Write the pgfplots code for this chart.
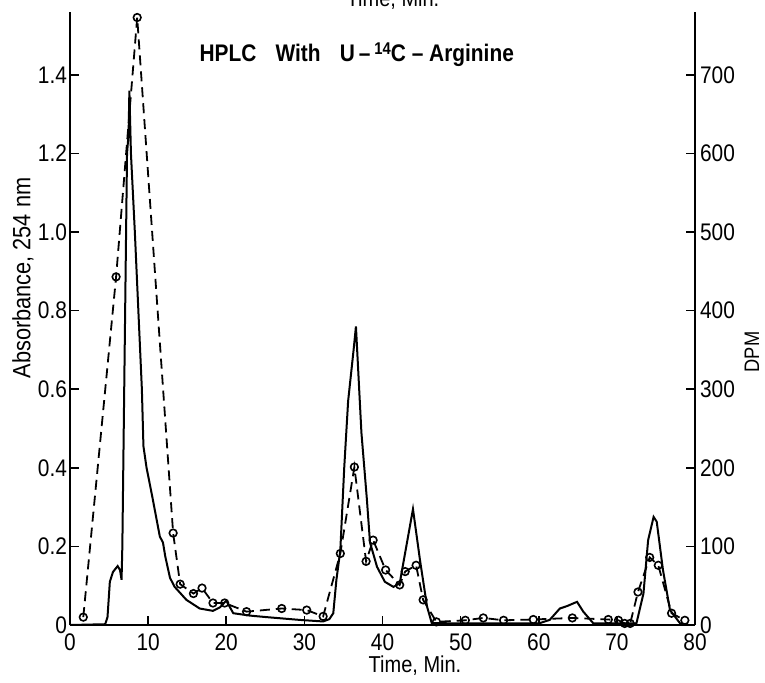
\documentclass[border=0pt]{standalone}
\usepackage{fontspec}
\setmainfont{Liberation Sans}[FakeStretch=0.87]
\usepackage{pgfplots}
\pgfplotsset{compat=1.18}
\begin{document}
\begin{tikzpicture}
\pgfplotsset{
  common/.style={
    at={(0,0)}, anchor=south west,
    scale only axis, width=312.5pt, height=306.5pt,
    xmin=0, xmax=80,
    tick align=inside, major tick length=4.5pt,
    tick style={line width=0.8pt, black},
    axis line style={line width=1pt},
    ticklabel style={font=\fontsize{12}{12}\selectfont},
    /pgf/number format/assume math mode=true,
  }
}
\begin{axis}[common,
  ymin=0, ymax=1.56,
  axis x line*=bottom, axis y line*=left,
  xtick={0,10,...,80},
  ytick={0,0.2,0.4,0.6,0.8,1.0,1.2,1.4},
  yticklabels={0,0.2,0.4,0.6,0.8,1.0,1.2,1.4},
  xticklabel style={yshift=-1pt},
  yticklabel style={xshift=2pt},
]
\addplot[black, line width=1pt, no markers] coordinates {
(0,0) (4.5,0.002) (4.8,0.02) (5.1,0.11) (5.5,0.135) (6.1,0.15) (6.4,0.14) (6.6,0.115)
(6.7,0.2) (7.3,1.2) (7.5,1.25) (7.6,1.36) (7.8,1.2) (8.3,1.0) (8.75,0.8) (9.2,0.6)
(9.4,0.455) (9.8,0.4) (10.5,0.33) (11.1,0.267) (11.5,0.225) (11.9,0.21) (12.2,0.174)
(12.8,0.12) (13.4,0.097) (14.9,0.064) (16.6,0.042) (18.3,0.036) (19.2,0.045) (20.0,0.062)
(20.9,0.03) (23,0.024) (25.2,0.020) (29.4,0.013) (32.4,0.009) (33.2,0.015) (33.7,0.03)
(34.1,0.115) (34.6,0.19) (35.1,0.40) (35.6,0.57) (36.3,0.70) (36.6,0.76) (37.3,0.49)
(38.0,0.32) (38.4,0.21) (39.3,0.148) (40.3,0.110) (41.4,0.097) (42.2,0.106) (43.9,0.295)
(44.8,0.165) (45.7,0.047) (46.3,0.005) (50,0.004) (60,0.004) (61.4,0.013) (62.7,0.042)
(63.6,0.048) (64.9,0.059) (65.7,0.034) (67.0,0.004) (72.5,0.004) (73.4,0.08) (74.0,0.216)
(74.7,0.275) (75.1,0.263) (75.9,0.14) (76.8,0.038) (78.1,0.004) (79,0)
};
\node[anchor=base, font=\fontsize{12}{12}\selectfont\bfseries] at (axis cs:36.7,1.435)
  {HPLC\hspace{0.8em}With\hspace{0.8em}U\,--\,\raisebox{0.55ex}{\fontsize{8.5}{8.5}\selectfont\bfseries 14}C -- Arginine};
\end{axis}
\begin{axis}[common,
  ymin=0, ymax=780,
  axis x line=none, axis y line*=right,
  ytick={0,100,...,700},
  yticklabel style={xshift=-1pt},
]
\addplot[black, line width=0.9pt, dash pattern=on 5pt off 3pt,
  mark=o, mark size=1.9pt, mark options={solid, fill=white, line width=0.8pt}] coordinates {
(1.7,10) (5.9,443) (8.6,773) (13.2,117) (14.1,52) (15.8,40) (16.9,47) (18.3,28) (19.8,28)
(22.6,17) (27.1,21) (30.3,19) (32.4,11) (34.6,91) (36.4,201) (37.9,81) (38.8,108) (40.4,70)
(42.2,51) (42.9,68) (44.3,76) (45.2,32) (46.9,4) (50.6,6) (52.9,9) (55.5,6) (59.3,7)
(64.3,9) (68.9,7) (70.2,6) (71.0,2) (71.7,2) (72.7,42) (74.2,86) (75.3,76) (77.0,15) (78.7,6)
};
\end{axis}
\node[anchor=base, font=\fontsize{11.5}{12}\selectfont] at (161.5pt,309pt) {Time, Min.};
\node[anchor=base, font=\fontsize{11.5}{12}\selectfont] at (172.5pt,-23.5pt) {Time, Min.};
\node[rotate=90, anchor=center, font=\fontsize{12.5}{13}\selectfont] at (-23.5pt,173.5pt) {Absorbance, 254 nm};
\node[rotate=90, anchor=center, font=\fontsize{10.5}{11}\selectfont] at (341pt,136.5pt) {DPM};
\pgfresetboundingbox
\path (-35pt,-28.5pt) rectangle (347.5pt,312.5pt);
\end{tikzpicture}
\end{document}
